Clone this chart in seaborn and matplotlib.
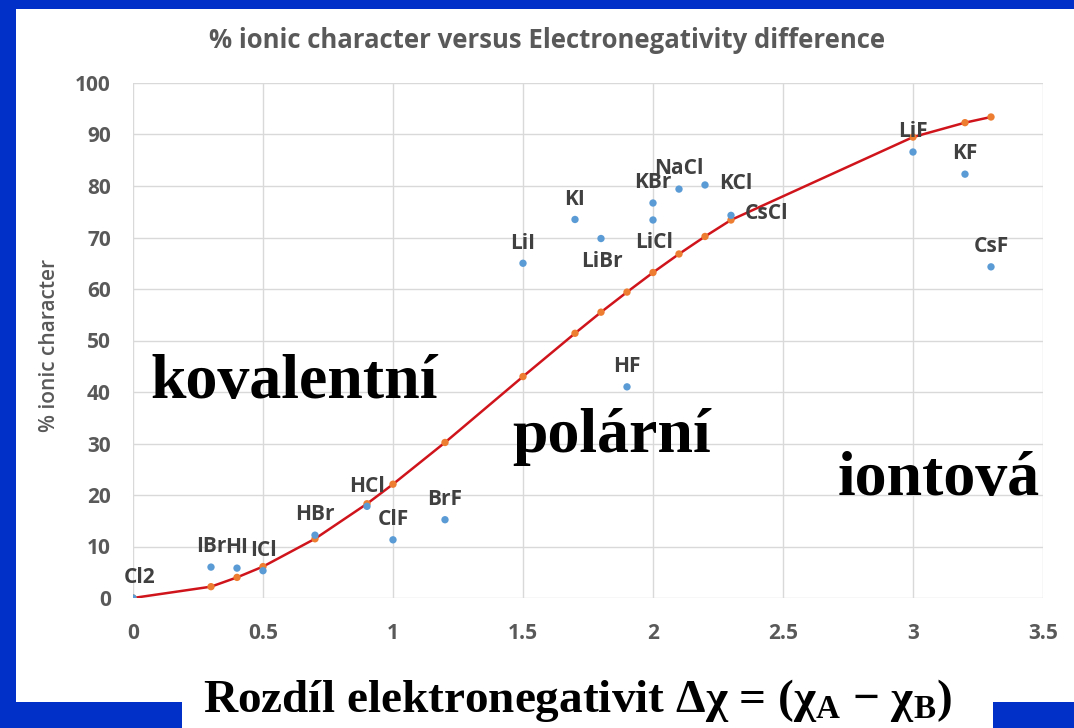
import matplotlib
matplotlib.use("Agg")
import matplotlib.pyplot as plt
from matplotlib.patches import Rectangle
import seaborn as sns
import pandas as pd

# measured compounds (blue points)
compounds = ["Cl2", "IBr", "HI", "ICl", "HBr", "HCl", "ClF", "BrF", "HF", "LiI",
             "KI", "LiBr", "KBr", "LiCl", "NaCl", "KCl", "CsCl", "LiF", "KF", "CsF"]
delta_chi = [0.0, 0.3, 0.4, 0.5, 0.7, 0.9, 1.0, 1.2, 1.9, 1.5,
             1.7, 1.8, 2.0, 2.0, 2.1, 2.2, 2.3, 3.0, 3.2, 3.3]
ionic_pct = [0.0, 6.0, 5.8, 5.3, 12.2, 17.8, 11.3, 15.2, 41.0, 65.0,
             73.5, 69.8, 76.7, 73.4, 79.4, 80.2, 74.3, 86.6, 82.3, 64.3]

# theoretical curve (orange points on the red line)
curve_x = [0.0, 0.3, 0.4, 0.5, 0.7, 0.9, 1.0, 1.2, 1.5, 1.7, 1.8, 1.9,
           2.0, 2.1, 2.2, 2.3, 3.0, 3.2, 3.3]
curve_y = [0.0, 2.2, 4.0, 6.1, 11.5, 18.3, 22.1, 30.2, 43.0, 51.4, 55.5, 59.4,
           63.2, 66.8, 70.2, 73.4, 89.5, 92.3, 93.4]

x_ticks = [0, 0.5, 1, 1.5, 2, 2.5, 3, 3.5]
x_tick_labels = ["0", "0.5", "1", "1.5", "2", "2.5", "3", "3.5"]
y_ticks = list(range(0, 101, 10))

# label placement: above unless stated
label_pos = {"LiBr": "below", "LiCl": "below", "KCl": "right", "CsCl": "right"}

points = pd.DataFrame({"compound": compounds, "dchi": delta_chi, "ionic": ionic_pct})
curve = pd.DataFrame({"dchi": curve_x, "ionic": curve_y})

sns.set_theme(style="white")
plt.rcParams["font.family"] = ["Open Sans", "DejaVu Sans"]
plt.rcParams["mathtext.fontset"] = "custom"
plt.rcParams["mathtext.rm"] = "Liberation Serif:bold"
plt.rcParams["mathtext.it"] = "Liberation Serif:bold"
plt.rcParams["mathtext.bf"] = "Liberation Serif:bold"

BLUE_FRAME = "#0030C8"
GREY = "#595959"

fig = plt.figure(figsize=(10.74, 7.28), dpi=100, facecolor=BLUE_FRAME)
# white slide area and the white box under the x label
fig.patches.append(Rectangle((16 / 1074, 26 / 728), 1 - 16 / 1074, (728 - 9 - 26) / 728,
                             transform=fig.transFigure, facecolor="white",
                             edgecolor="none", zorder=-5))
fig.patches.append(Rectangle((182 / 1074, 0), (993 - 182) / 1074, 0.1,
                             transform=fig.transFigure, facecolor="white",
                             edgecolor="none", zorder=-5))

ax = fig.add_axes([133 / 1074, 1 - 598 / 728, 910 / 1074, 515 / 728])
ax.set_facecolor("white")

sns.lineplot(data=curve, x="dchi", y="ionic", ax=ax, color="#D0141C",
             linewidth=1.8, zorder=2)
sns.scatterplot(data=curve, x="dchi", y="ionic", ax=ax, color="#ED7D31",
                s=28, edgecolor="none", zorder=3)
sns.scatterplot(data=points, x="dchi", y="ionic", ax=ax, color="#5B9BD5",
                s=28, edgecolor="none", zorder=4)

for name, xv, yv in zip(compounds, delta_chi, ionic_pct):
    pos = label_pos.get(name, "above")
    if pos == "below":
        off, ha, va = (1, -9), "center", "top"
    elif pos == "right":
        off, ha, va = (10, 1), "left", "center"
    else:
        off, ha, va = (0, 7), "center", "bottom"
    if name == "Cl2":
        off = (5, 7)
    ax.annotate(name, (xv, yv), xytext=off, textcoords="offset points",
                ha=ha, va=va, fontsize=15, fontweight="bold", color="#404040",
                zorder=5)

ax.set_xlim(0, 3.5)
ax.set_ylim(0, 100)
ax.set_xticks(x_ticks)
ax.set_xticklabels(x_tick_labels)
ax.set_yticks(y_ticks)
ax.grid(True, color="#D9D9D9", linewidth=1)
ax.set_axisbelow(True)
for sp in ax.spines.values():
    sp.set_visible(False)
ax.tick_params(axis="both", length=0, labelsize=15, labelcolor=GREY)
for lbl in ax.get_xticklabels() + ax.get_yticklabels():
    lbl.set_fontweight("bold")
ax.tick_params(axis="x", pad=18)
ax.tick_params(axis="y", pad=16)

ax.set_xlabel("")
ax.set_ylabel("% ionic character", fontsize=15, color=GREY, fontweight="semibold")
ax.yaxis.set_label_coords(-0.08, 0.49)

fig.text(547 / 1074, 1 - 41 / 728,
         "% ionic character versus Electronegativity difference",
         ha="center", va="center", fontsize=18.5, fontweight="bold", color=GREY)

serif_bold = dict(family=["Liberation Serif", "DejaVu Serif"], fontweight="bold",
                  color="black")
fig.text(150 / 1074, 1 - 383 / 728, "kovalentní", ha="left", va="center",
         fontsize=46, **serif_bold)
fig.text(512 / 1074, 1 - 437 / 728, "polární", ha="left", va="center",
         fontsize=46, **serif_bold)
fig.text(838 / 1074, 1 - 480 / 728, "iontová", ha="left", va="center",
         fontsize=46, **serif_bold)

fig.text(203 / 1074, 1 - 712 / 728,
         "Rozdíl elektronegativit Δχ = (χ$_\\mathrm{A}$ − χ$_\\mathrm{B}$)",
         ha="left", va="baseline", fontsize=34, **serif_bold)

fig.savefig("out.png", dpi=100, facecolor=fig.get_facecolor())
